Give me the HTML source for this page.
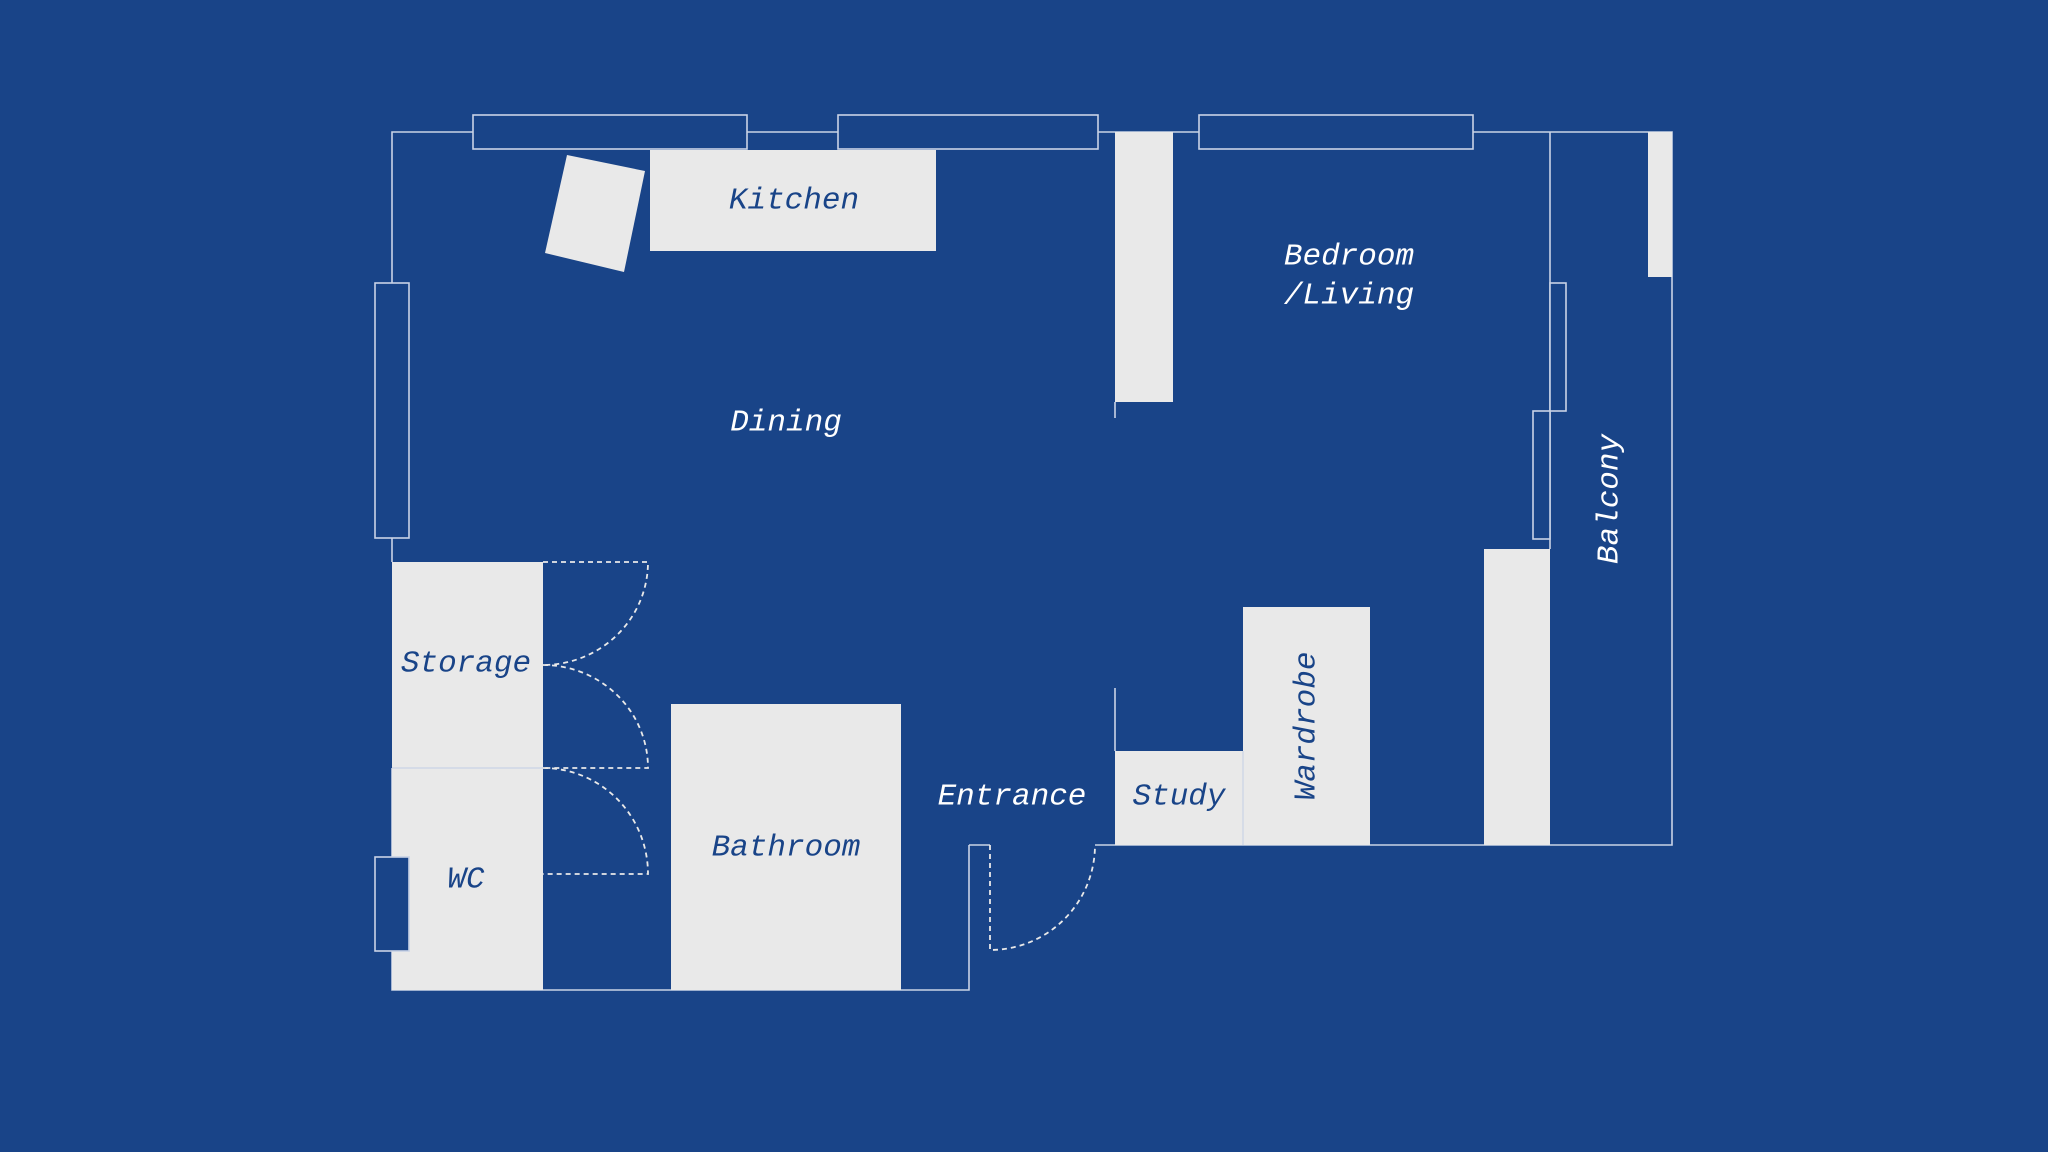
<!DOCTYPE html>
<html><head><meta charset="utf-8"><style>
html,body{margin:0;padding:0;background:#194488;}
svg{display:block}
text{font-family:"Liberation Mono",monospace;font-style:italic;font-size:31px;text-anchor:middle;dominant-baseline:central}
</style></head><body>
<svg width="2048" height="1152" viewBox="0 0 2048 1152" xmlns="http://www.w3.org/2000/svg">
<rect width="2048" height="1152" fill="#194488"/>
<g fill="none" stroke="#c9d3e6" stroke-width="1.6">
<!-- top wall -->
<polyline points="392,562 392,132 1672,132 1672,845 1095,845"/>
<line x1="1550" y1="132" x2="1550" y2="549"/>
<polyline points="969,845 990,845"/>
<polyline points="969,845 969,990 392,990 392,768"/>
<line x1="1115" y1="402" x2="1115" y2="418"/>
<line x1="1115" y1="688" x2="1115" y2="751"/>
</g>
<g fill="#194488" stroke="#c9d3e6" stroke-width="1.6">
<rect x="473" y="115" width="274" height="34"/>
<rect x="838" y="115" width="260" height="34"/>
<rect x="1199" y="115" width="274" height="34"/>
<rect x="375" y="283" width="34" height="255"/>
<rect x="1550" y="283" width="16" height="128"/>
<rect x="1533" y="411" width="17" height="128"/>
</g>
<g fill="#e9e9e9">
<rect x="650" y="150" width="286" height="101"/>
<polygon points="567,155 645,171 624,272 545,253"/>
<rect x="1115" y="132" width="58" height="270"/>
<rect x="1648" y="132" width="24" height="145"/>
<rect x="1484" y="549" width="66" height="296"/>
<rect x="1243" y="607" width="127" height="238"/>
<rect x="1115" y="751" width="128" height="94"/>
<rect x="392" y="562" width="151" height="206"/>
<rect x="392" y="768" width="151" height="222"/>
<rect x="671" y="704" width="230" height="286"/>
</g>
<g stroke="#c9d3e6" stroke-width="1.2">
<line x1="1243" y1="751" x2="1243" y2="845"/>
<line x1="392" y1="768" x2="543" y2="768"/>
</g>
<rect x="375" y="857" width="34" height="94" fill="#194488" stroke="#c9d3e6" stroke-width="1.6"/>
<g fill="none" stroke="#e9e9e9" stroke-width="1.8" stroke-dasharray="5,4">
<path d="M543,562 H648 V562 A105,103 0 0 1 543,665"/>
<path d="M543,665 A105,103 0 0 1 648,768 H543"/>
<path d="M543,768 A105,106 0 0 1 648,874 H543"/>
<path d="M990,845 V950 A105,105 0 0 0 1095,845"/>
</g>
<g fill="#194488">
<text x="794" y="201">Kitchen</text>
<text x="466" y="664">Storage</text>
<text x="466" y="880">WC</text>
<text x="786" y="848">Bathroom</text>
<text x="1179" y="797">Study</text>
<text transform="translate(1307,726) rotate(-90)">Wardrobe</text>
</g>
<g fill="#ffffff">
<text x="786" y="423">Dining</text>
<text x="1349" y="257">Bedroom</text>
<text x="1349" y="296">/Living</text>
<text x="1012" y="797">Entrance</text>
<text transform="translate(1610,499) rotate(-90)">Balcony</text>
</g>
</svg>
</body></html>
